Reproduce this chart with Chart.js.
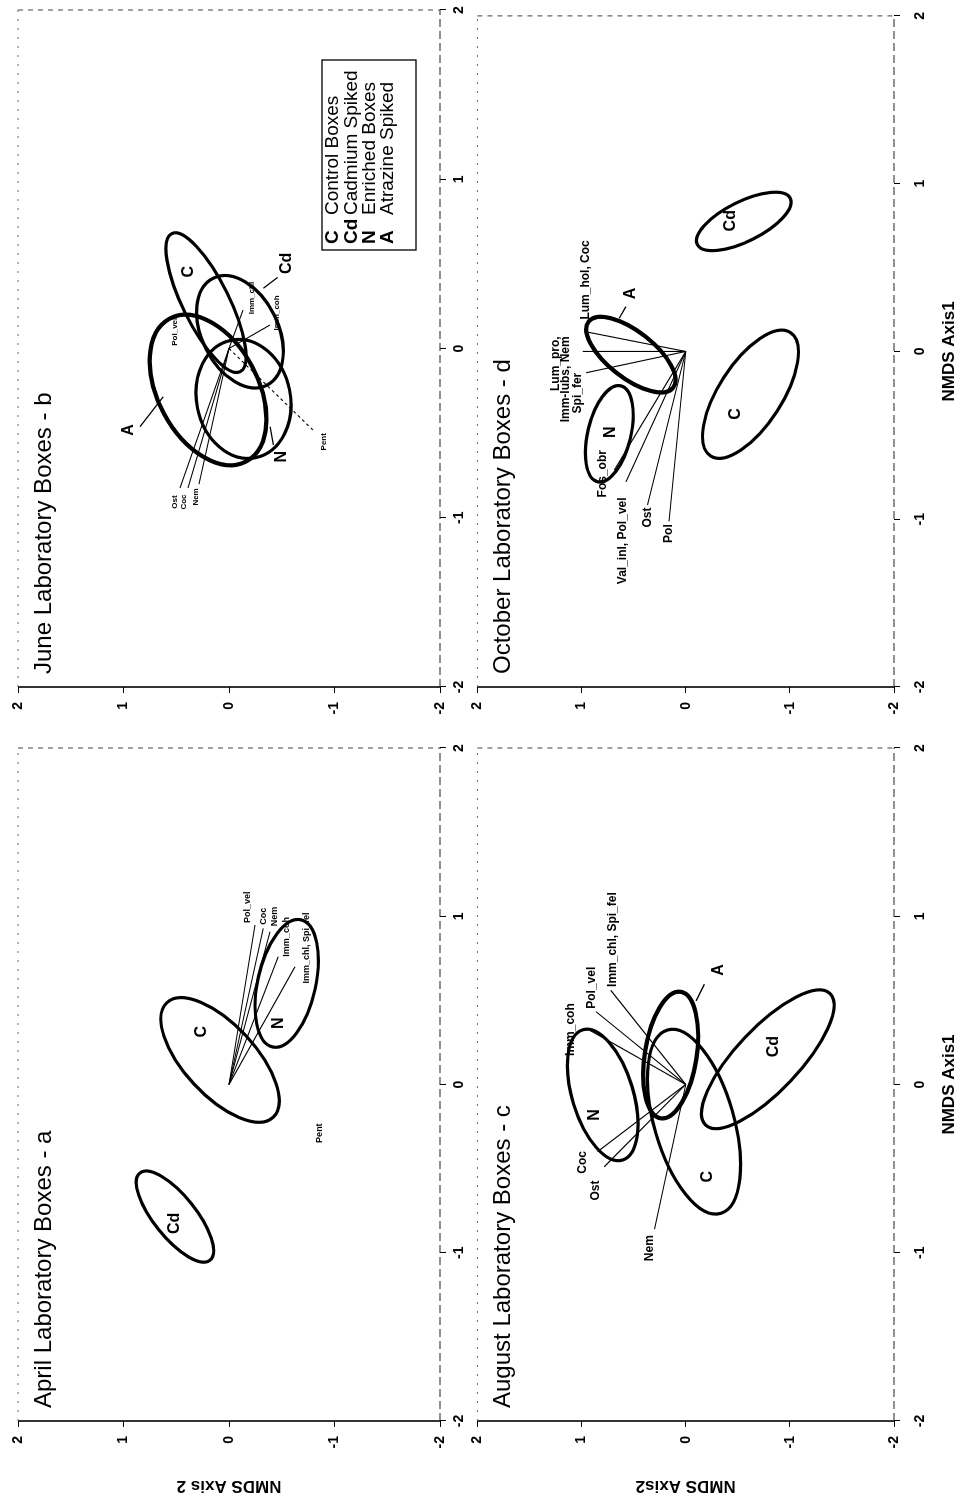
<!DOCTYPE html>
<html>
<head>
<meta charset="utf-8">
<title>NMDS laboratory boxes</title>
<script src="https://cdn.jsdelivr.net/npm/chart.js@4.4.0/dist/chart.umd.min.js"></script>
<style>
  html, body { margin:0; padding:0; background:#fff; width:964px; height:1501px; overflow:hidden; }
  #figure { position:absolute; left:0; top:0; width:1501px; height:964px; background:#fff;
            transform-origin:0 0; transform:translate(0px,1501px) rotate(-90deg); }
  #figure canvas { position:absolute; }
</style>
</head>
<body>
<div id="figure">
  <canvas id="panelA" width="770" height="475" style="left:0px;top:0px"></canvas>
  <canvas id="panelB" width="741" height="475" style="left:760px;top:0px"></canvas>
  <canvas id="panelC" width="770" height="504" style="left:0px;top:460px"></canvas>
  <canvas id="panelD" width="741" height="504" style="left:760px;top:460px"></canvas>
</div>
<script>
// ---------------- data (NMDS units) ----------------
const TICK_VALUES = [-2, -1, 0, 1, 2];
const TICK_LABELS = ['-2', '-1', '0', '1', '2'];
const VECTOR_ORIGIN = [0, 0];

const PANEL_TITLES = ['April Laboratory Boxes - a', 'June Laboratory Boxes - b',
                      'August Laboratory Boxes - c', 'October Laboratory Boxes - d'];
const Y_AXIS_TITLES = ['NMDS Axis 2', '', 'NMDS Axis2', ''];
const X_AXIS_TITLES = ['', '', 'NMDS Axis1', 'NMDS Axis1'];

const LEGEND_SYMBOLS = ['C', 'Cd', 'N', 'A'];
const LEGEND_TEXT = ['Control Boxes', 'Cadmium Spiked', 'Enriched Boxes', 'Atrazine Spiked'];

// April (a)
const aprilGroups = ['Cd', 'C', 'N'];
const aprilCentres = [[-0.785, 0.512], [0.146, 0.085], [0.601, -0.547]];
const aprilMajorEnds = [[-0.526, 0.844], [-0.195, -0.418], [0.979, -0.681]];
const aprilMinorEnds = [[-0.707, 0.357], [0.289, -0.162], [0.564, -0.815]];
const aprilGroupLabels = [[-0.825, 0.512], [0.314, 0.259], [0.364, -0.467]];
const aprilSpecies = ['Pol_vel', 'Coc', 'Nem', 'Imm_coh', 'Imm_chl, Spi_fel', 'Pent'];
const aprilVectorEnds = [[0.948, -0.246], [0.928, -0.325], [0.908, -0.389], [0.760, -0.467], [0.700, -0.626], null];
const aprilSpeciesLabels = [[0.96, -0.18], [0.95, -0.325], [0.94, -0.436], [0.76, -0.547], [0.60, -0.736], [-0.347, -0.862]];
const aprilPointerStarts = [];
const aprilPointerEnds = [];

// June (b)
const juneGroups = ['C', 'Cd', 'N', 'A'];
const juneCentres = [[0.271, 0.218], [0.099, -0.104], [-0.298, -0.137], [-0.245, 0.199]];
const juneMajorEnds = [[-0.137, -0.105], [-0.217, -0.358], [-0.645, -0.251], [-0.667, -0.163]];
const juneMinorEnds = [[0.331, 0.020], [0.200, -0.427], [-0.243, -0.573], [-0.106, -0.219]];
const juneGroupLabels = [[0.454, 0.386], [0.503, -0.547], [-0.639, -0.499], [-0.482, 0.955]];
const juneSpecies = ['Ost', 'Coc', 'Nem', 'Pol_vel', 'Imm_chl', 'Imm_coh', 'Pent'];
const juneVectorEnds = [[-0.824, 0.464], [-0.824, 0.389], [-0.801, 0.284], null, [0.227, -0.133], [0.139, -0.389], [-0.482, -0.796]];
const juneSpeciesLabels = [[-0.907, 0.512], [-0.907, 0.427], [-0.877, 0.313], [0.099, 0.512], [0.298, -0.215], [0.210, -0.452], [-0.551, -0.894]];
const junePointerStarts = [[0.42, -0.46], [-0.570, -0.420], [-0.462, 0.844]];
const junePointerEnds = [[0.356, -0.326], [-0.462, -0.389], [-0.285, 0.623]];

// August (c)
const augustGroups = ['N', 'A', 'C', 'Cd'];
const augustCentres = [[-0.062, 0.797], [0.175, 0.144], [-0.221, -0.080], [0.150, -0.788]];
const augustMajorEnds = [[-0.449, 0.606], [-0.201, 0.239], [-0.766, -0.335], [-0.241, -0.191]];
const augustMinorEnds = [[-0.009, 0.517], [0.152, -0.102], [-0.155, -0.447], [0.021, -1.008]];
const augustGroupLabels = [[-0.181, 0.877], [0.681, -0.319], [-0.548, -0.207], [0.225, -0.845]];
const augustSpecies = ['Imm_coh', 'Pol_vel', 'Imm_chl, Spi_fel', 'Coc', 'Ost', 'Nem'];
const augustVectorEnds = [[0.324, 0.925], [0.433, 0.861], [0.56, 0.72], [-0.399, 0.845], [-0.489, 0.782], [-0.86, 0.30]];
const augustSpeciesLabels = [[0.17, 1.10], [0.45, 0.90], [0.58, 0.70], [-0.53, 0.99], [-0.69, 0.86], [-1.05, 0.35]];
const augustPointerStarts = [[0.497, -0.100]];
const augustPointerEnds = [[0.596, -0.179]];

// October (d)
const octoberGroups = ['Cd', 'C', 'A', 'N'];
const octoberCentres = [[0.775, -0.558], [-0.255, -0.622], [-0.019, 0.526], [-0.491, 0.734]];
const octoberMajorEnds = [[0.637, -0.112], [-0.623, -0.239], [-0.216, 0.120], [-0.777, 0.845]];
const octoberMinorEnds = [[0.669, -0.644], [-0.356, -0.877], [0.090, 0.389], [-0.521, 0.533]];
const octoberGroupLabels = [[0.779, -0.431], [-0.373, -0.478], [0.346, 0.526], [-0.482, 0.718]];
const octoberSpecies = ['Lum_hol, Coc', 'Lum_pro,', 'Imm-lubs, Nem', 'Spi_fer', 'Fos_obr', 'Val_inl, Pol_vel', 'Ost', 'Pol'];
const octoberVectorEnds = [[0.119, 0.973], null, [0.0, 0.989], [-0.127, 0.957], [-0.708, 0.686], [-0.777, 0.574], [-0.915, 0.367], [-1.013, 0.160]];
const octoberSpeciesLabels = [[0.19, 0.96], [0.09, 1.244], [0.09, 1.148], [-0.127, 1.037], [-0.87, 0.80], [-1.387, 0.606], [-0.93, 0.367], [-1.03, 0.16]];
const octoberPointerStarts = [[0.198, 0.638]];
const octoberPointerEnds = [[0.267, 0.574]];

// ---------------- styles / layout ----------------
const FONT = '"Liberation Sans", Arial, Helvetica, sans-serif';
const NARROW = '"Liberation Sans Narrow", "Liberation Sans", Arial, sans-serif';
const GROUP_WIDTH = { C: 3.2, Cd: 3.2, N: 3.2, A: 4.2 };

const panels = [
  { id: 'panelA', title: PANEL_TITLES[0], xTitle: X_AXIS_TITLES[0], yTitle: Y_AXIS_TITLES[0],
    padTop: 18, padRight: 17, yW: 80, xH: 35, xTickPad: 5, speciesSize: 9,
    groups: aprilGroups, centres: aprilCentres, majors: aprilMajorEnds, minors: aprilMinorEnds,
    groupLabels: aprilGroupLabels, species: aprilSpecies, ends: aprilVectorEnds,
    speciesLabels: aprilSpeciesLabels, align: ['left','left','left','left','left','left'],
    dashed: [], pStart: aprilPointerStarts, pEnd: aprilPointerEnds, legend: false },
  { id: 'panelB', title: PANEL_TITLES[1], xTitle: X_AXIS_TITLES[1], yTitle: Y_AXIS_TITLES[1],
    padTop: 18, padRight: 10, yW: 54, xH: 35, xTickPad: 5, speciesSize: 8,
    groups: juneGroups, centres: juneCentres, majors: juneMajorEnds, minors: juneMinorEnds,
    groupLabels: juneGroupLabels, species: juneSpecies, ends: juneVectorEnds,
    speciesLabels: juneSpeciesLabels, align: ['center','center','center','center','center','center','center'],
    dashed: ['Pent'], pStart: junePointerStarts, pEnd: junePointerEnds, legend: true },
  { id: 'panelC', title: PANEL_TITLES[2], xTitle: X_AXIS_TITLES[2], yTitle: Y_AXIS_TITLES[2],
    padTop: 16, padRight: 17, yW: 80, xH: 70, xTickPad: 12, speciesSize: 12,
    groups: augustGroups, centres: augustCentres, majors: augustMajorEnds, minors: augustMinorEnds,
    groupLabels: augustGroupLabels, species: augustSpecies, ends: augustVectorEnds,
    speciesLabels: augustSpeciesLabels, align: ['left','left','left','left','left','left'],
    dashed: [], pStart: augustPointerStarts, pEnd: augustPointerEnds, legend: false },
  { id: 'panelD', title: PANEL_TITLES[3], xTitle: X_AXIS_TITLES[3], yTitle: Y_AXIS_TITLES[3],
    padTop: 16, padRight: 10, yW: 54, xH: 70, xTickPad: 12, speciesSize: 12,
    groups: octoberGroups, centres: octoberCentres, majors: octoberMajorEnds, minors: octoberMinorEnds,
    groupLabels: octoberGroupLabels, species: octoberSpecies, ends: octoberVectorEnds,
    speciesLabels: octoberSpeciesLabels, align: ['left','right','right','right','left','left','right','right'],
    dashed: [], pStart: octoberPointerStarts, pEnd: octoberPointerEnds, legend: false }
];

function makeDecor(p) {
  return {
    id: 'decor_' + p.id,
    beforeDatasetsDraw(chart) {
      const ctx = chart.ctx, a = chart.chartArea;
      ctx.save();
      ctx.strokeStyle = '#000';
      ctx.lineWidth = 1.6; ctx.setLineDash([]);
      ctx.beginPath(); ctx.moveTo(a.left, a.top); ctx.lineTo(a.left, a.bottom); ctx.stroke();
      ctx.lineWidth = 1.2; ctx.strokeStyle = '#222'; ctx.setLineDash([8, 4]);
      ctx.beginPath(); ctx.moveTo(a.left, a.bottom); ctx.lineTo(a.right, a.bottom); ctx.stroke();
      ctx.lineWidth = 1; ctx.strokeStyle = '#444'; ctx.setLineDash([5, 5]);
      ctx.beginPath(); ctx.moveTo(a.right, a.top); ctx.lineTo(a.right, a.bottom); ctx.stroke();
      ctx.strokeStyle = '#666'; ctx.setLineDash([2, 7]);
      ctx.beginPath(); ctx.moveTo(a.left, a.top); ctx.lineTo(a.right, a.top); ctx.stroke();
      ctx.restore();
    },
    afterDatasetsDraw(chart) {
      const ctx = chart.ctx, a = chart.chartArea;
      const xs = chart.scales.x, ys = chart.scales.y;
      const X = v => xs.getPixelForValue(v), Y = v => ys.getPixelForValue(v);
      ctx.save();
      // ellipses
      p.groups.forEach((g, i) => {
        const c = p.centres[i], m = p.majors[i], n = p.minors[i];
        const cx = X(c[0]), cy = Y(c[1]);
        ctx.save();
        ctx.beginPath();
        ctx.transform(X(m[0]) - cx, Y(m[1]) - cy, X(n[0]) - cx, Y(n[1]) - cy, cx, cy);
        ctx.arc(0, 0, 1, 0, Math.PI * 2);
        ctx.restore();
        ctx.lineWidth = GROUP_WIDTH[g];
        ctx.strokeStyle = '#000';
        ctx.stroke();
      });
      // group labels
      ctx.fillStyle = '#000';
      ctx.font = 'bold 16px ' + FONT;
      ctx.textAlign = 'center'; ctx.textBaseline = 'middle';
      p.groups.forEach((g, i) => {
        const l = p.groupLabels[i];
        ctx.fillText(g, X(l[0]), Y(l[1]));
      });
      // species labels
      ctx.font = 'bold ' + p.speciesSize + 'px ' + NARROW;
      p.species.forEach((s, i) => {
        const l = p.speciesLabels[i];
        ctx.textAlign = p.align[i];
        ctx.fillText(s, X(l[0]), Y(l[1]));
      });
      // title
      ctx.font = '24px ' + FONT;
      ctx.textAlign = 'left';
      ctx.fillText(p.title, a.left + 13, a.top + 26);
      // legend
      if (p.legend) {
        const w = 190, h = 94;
        const bx = a.right - 50 - w, by = a.bottom - 24 - h;
        ctx.lineWidth = 1.3; ctx.strokeStyle = '#000'; ctx.setLineDash([]);
        ctx.strokeRect(bx, by, w, h);
        LEGEND_SYMBOLS.forEach((s, i) => {
          const ty = by + 11 + i * 18.3;
          ctx.font = 'bold 19px ' + FONT; ctx.textAlign = 'left';
          ctx.fillText(s, bx + 6, ty);
          ctx.font = '19px ' + FONT;
          ctx.fillText(LEGEND_TEXT[i], bx + 35, ty);
        });
      }
      ctx.restore();
    }
  };
}

function vectorDatasets(p) {
  const ds = [];
  p.ends.forEach((e, i) => {
    if (!e) return;
    ds.push({
      data: [{ x: VECTOR_ORIGIN[0], y: VECTOR_ORIGIN[1] }, { x: e[0], y: e[1] }],
      showLine: true, pointRadius: 0, borderColor: '#000', borderWidth: 1.1,
      borderDash: p.dashed.includes(p.species[i]) ? [3, 3] : [], fill: false
    });
  });
  p.pStart.forEach((s, i) => {
    const e = p.pEnd[i];
    ds.push({
      data: [{ x: s[0], y: s[1] }, { x: e[0], y: e[1] }],
      showLine: true, pointRadius: 0, borderColor: '#000', borderWidth: 1.3, fill: false
    });
  });
  return ds;
}

function axisCommon(p, isX) {
  return {
    type: 'linear', min: -2, max: 2,
    position: isX ? 'bottom' : 'left',
    afterBuildTicks: s => { s.ticks = TICK_VALUES.map(v => ({ value: v })); },
    afterFit: s => { if (isX) s.height = p.xH; else s.width = p.yW; },
    grid: { display: true, drawOnChartArea: false, drawTicks: true, tickLength: 6, color: '#000', lineWidth: 1 },
    border: { display: false },
    ticks: {
      autoSkip: false, maxRotation: 0, minRotation: 0, color: '#000',
      padding: isX ? p.xTickPad : 9,
      font: { family: FONT, size: 14, weight: 'bold' },
      callback: v => TICK_LABELS[TICK_VALUES.indexOf(v)]
    },
    title: {
      display: isX ? !!p.xTitle : !!p.yTitle,
      text: isX ? p.xTitle : p.yTitle,
      color: '#000',
      font: { family: FONT, size: 17, weight: 'bold' },
      padding: isX ? { top: 0, bottom: 4 } : { top: 5, bottom: 0 }
    }
  };
}

panels.forEach(p => {
  new Chart(document.getElementById(p.id), {
    type: 'scatter',
    data: { datasets: vectorDatasets(p) },
    options: {
      responsive: false, animation: false, devicePixelRatio: 1,
      layout: { padding: { top: p.padTop, right: p.padRight, left: 0, bottom: 0 } },
      plugins: { legend: { display: false }, tooltip: { enabled: false }, title: { display: false } },
      scales: { x: axisCommon(p, true), y: axisCommon(p, false) }
    },
    plugins: [makeDecor(p)]
  });
});
</script>
</body>
</html>
